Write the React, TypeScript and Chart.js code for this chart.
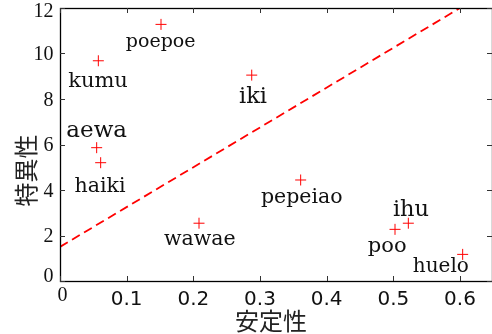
import React, { useEffect, useRef } from 'react';
import { Chart, registerables } from 'chart.js';

Chart.register(...registerables);

// ---- data ----
const words = ['poepoe', 'kumu', 'aewa', 'haiki', 'iki', 'wawae', 'pepeiao', 'poo', 'ihu', 'huelo'];
const stability = [0.1515, 0.0575, 0.055, 0.061, 0.2876, 0.2085, 0.361, 0.5025, 0.5225, 0.604];
const specificity = [11.28, 9.68, 5.86, 5.2, 9.05, 2.54, 4.44, 2.27, 2.54, 1.17];
// label anchors in data coordinates (centre, baseline)
const labelStability = [0.151, 0.057, 0.055, 0.06, 0.2895, 0.2097, 0.3626, 0.4908, 0.5265, 0.5712];
const labelSpecificity = [10.3, 8.54, 6.34, 3.93, 7.81, 1.58, 3.42, 1.29, 2.86, 0.41];
const fitLineX = [0, 0.6];
const fitLineY = [1.5, 12];
const xTickValues = [0, 0.1, 0.2, 0.3, 0.4, 0.5, 0.6];
const yTickValues = [0, 2, 4, 6, 8, 10, 12];
const xTitle = '安定性';
const yTitle = '特異性';

// ---- styles ----
const LABEL_FONT_PX = [19, 21, 23, 20.5, 22.5, 20.5, 20.5, 21, 22.5, 20];
const SERIF = '"Liberation Serif", serif';
const LABEL_SERIF = '"DejaVu Serif", serif';
const SANS = '"DejaVu Sans", sans-serif';
const CJK = '"Noto Sans CJK JP", sans-serif';

const framePlugin = {
  id: 'frame',
  afterDraw(chart: any) {
    const { ctx, chartArea } = chart;
    const { left, right, top, bottom } = chartArea;
    const xs = chart.scales.x;
    const ys = chart.scales.y;
    ctx.save();
    // labels
    ctx.fillStyle = '#111';
    ctx.textAlign = 'center';
    ctx.textBaseline = 'alphabetic';
    words.forEach((w, i) => {
      ctx.font = `${LABEL_FONT_PX[i]}px ${LABEL_SERIF}`;
      ctx.fillText(w, xs.getPixelForValue(labelStability[i]), ys.getPixelForValue(labelSpecificity[i]));
    });
    // frame
    ctx.strokeStyle = '#000';
    ctx.lineWidth = 1.3;
    ctx.strokeRect(left + 0.5, top + 0.5, right - left, bottom - top);
    // ticks
    ctx.lineWidth = 1;
    ctx.strokeStyle = '#333';
    const tl = 5;
    ctx.beginPath();
    xs.ticks.forEach((t: any) => {
      const px = Math.round(xs.getPixelForValue(t.value)) + 0.5;
      ctx.moveTo(px, bottom);
      ctx.lineTo(px, bottom - tl);
      ctx.moveTo(px, top);
      ctx.lineTo(px, top + tl);
    });
    ys.ticks.forEach((t: any) => {
      const py = Math.round(ys.getPixelForValue(t.value)) + 0.5;
      ctx.moveTo(left, py);
      ctx.lineTo(left + tl, py);
      ctx.moveTo(right, py);
      ctx.lineTo(right - tl, py);
    });
    ctx.stroke();
    // tick labels
    ctx.fillStyle = '#111';
    ctx.textBaseline = 'middle';
    xs.ticks.forEach((t: any) => {
      const px = xs.getPixelForValue(t.value);
      if (t.value === 0) {
        ctx.font = `20px ${SERIF}`;
        ctx.textAlign = 'center';
        ctx.fillText('0', px + 2.5, bottom + 15);
      } else {
        ctx.font = `20px ${SANS}`;
        ctx.textAlign = 'center';
        ctx.fillText(String(t.value), px, bottom + 18.5);
      }
    });
    ctx.font = `20px ${SERIF}`;
    ctx.textAlign = 'right';
    ys.ticks.forEach((t: any) => {
      let py = ys.getPixelForValue(t.value) + 1.5;
      py = Math.max(top + 4, Math.min(bottom - 4.5, py));
      ctx.fillText(String(t.value), left - 6.5, py);
    });
    // axis titles
    ctx.fillStyle = '#222';
    ctx.font = `24px ${CJK}`;
    ctx.textAlign = 'center';
    ctx.fillText(xTitle, (left + right) / 2 - 5, bottom + 40);
    ctx.save();
    ctx.translate(left - 34, (top + bottom) / 2 + 26);
    ctx.rotate(-Math.PI / 2);
    ctx.fillText(yTitle, 0, 0);
    ctx.restore();
    ctx.restore();
  },
};

export default function App() {
  const ref = useRef<HTMLCanvasElement | null>(null);
  useEffect(() => {
    if (!ref.current) return;
    const chart = new Chart(ref.current, {
      type: 'scatter',
      data: {
        datasets: [
          {
            data: stability.map((x, i) => ({ x, y: specificity[i] })),
            pointStyle: 'cross',
            radius: 5.5,
            borderColor: '#ff0000',
            backgroundColor: '#ff0000',
            borderWidth: 1,
            showLine: false,
          } as any,
          {
            type: 'line',
            data: fitLineX.map((x, i) => ({ x, y: fitLineY[i] })),
            borderColor: '#ff0000',
            borderWidth: 1.8,
            borderDash: [9, 5],
            pointRadius: 0,
            fill: false,
            showLine: true,
          } as any,
        ],
      },
      options: {
        responsive: false,
        animation: false,
        layout: { autoPadding: false, padding: { top: 8, right: 0, left: 0, bottom: 0 } },
        plugins: { legend: { display: false }, tooltip: { enabled: false } },
        scales: {
          x: {
            type: 'linear',
            min: 0,
            max: 0.648,
            afterBuildTicks: (s: any) => {
              s.ticks = xTickValues.map((v) => ({ value: v }));
            },
            afterFit: (s: any) => {
              s.height = 53;
              s.paddingLeft = 0;
              s.paddingRight = 0;
            },
            ticks: { display: false },
            grid: { display: false },
            border: { display: false },
          },
          y: {
            type: 'linear',
            min: 0,
            max: 12,
            afterBuildTicks: (s: any) => {
              s.ticks = yTickValues.map((v) => ({ value: v }));
            },
            afterFit: (s: any) => {
              s.width = 60;
              s.paddingTop = 0;
              s.paddingBottom = 0;
            },
            ticks: { display: false },
            grid: { display: false },
            border: { display: false },
          },
        },
      },
      plugins: [framePlugin],
    });
    return () => chart.destroy();
  }, []);
  return (
    <div style={{ position: 'fixed', left: 0, top: 0, width: 492, height: 334, background: '#fff' }}>
      <canvas ref={ref} width={492} height={334} style={{ display: 'block' }} />
    </div>
  );
}
